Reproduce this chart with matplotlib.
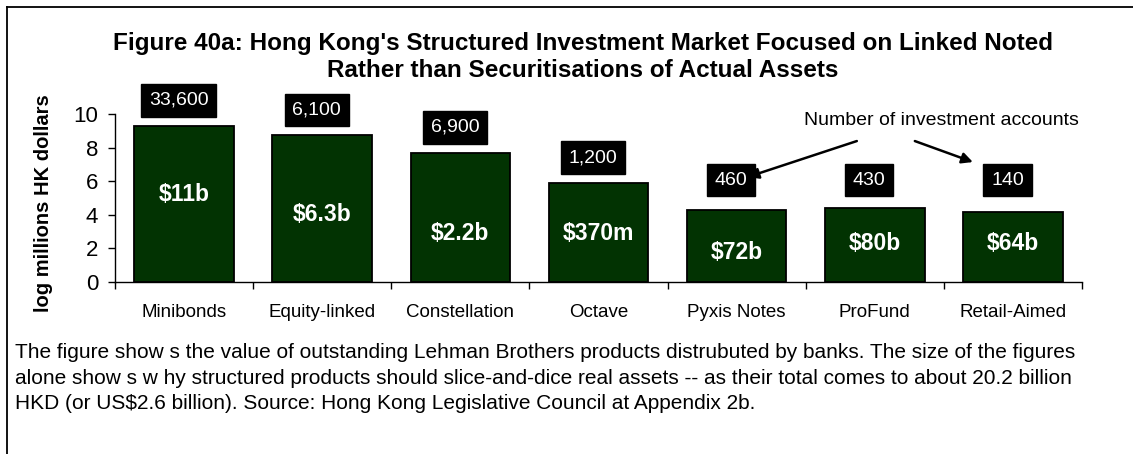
import numpy as np
import matplotlib.pyplot as plt
from matplotlib.lines import Line2D

plt.rcParams['font.family'] = ['Liberation Sans', 'DejaVu Sans']

# data (log of millions of HK dollars)
products = ["Minibonds", "Equity-linked", "Constellation", "Octave",
            "Pyxis Notes", "ProFund", "Retail-Aimed"]
log_value = [9.31, 8.75, 7.70, 5.91, 4.28, 4.38, 4.16]
value_labels = ["$11b", "$6.3b", "$2.2b", "$370m", "$72b", "$80b", "$64b"]
accounts = ["33,600", "6,100", "6,900", "1,200", "460", "430", "140"]

# where the white labels sit inside each bar
inner_y = [5.18, 3.99, 2.9, 2.9, 1.73, 2.3, 2.3]

fig = plt.figure(figsize=(11.33, 4.54), dpi=100)
ax = fig.add_axes([115/1133, 1-282/454, (1082-115)/1133, (282-114)/454])

x = np.arange(len(products))
bars = ax.bar(x, log_value, width=0.72, color="#023302", edgecolor="black", linewidth=1.3)

ax.set_xlim(-0.5, len(products) - 0.5)
ax.set_ylim(0, 10)
ax.set_yticks([0, 2, 4, 6, 8, 10])
ax.tick_params(axis="y", labelsize=16, length=5, width=1, pad=7)

# category boundaries get the tick marks, names go in between
ax.set_xticks(np.arange(-0.5, len(products)), labels=[""] * (len(products) + 1))
ax.set_xticks(x, labels=products, minor=True)
ax.tick_params(axis="x", which="major", length=5, width=1, direction="out")
ax.tick_params(axis="x", which="minor", length=0, labelsize=13.5, pad=16)

for side in ["top", "right"]:
    ax.spines[side].set_visible(False)
for side in ["left", "bottom"]:
    ax.spines[side].set_linewidth(1)

for i, b in enumerate(bars):
    ax.text(b.get_x() + b.get_width()/2, inner_y[i], value_labels[i],
            color="white", fontsize=16.5, fontweight="bold", ha="center", va="center")
    by = max(log_value[i] + 1.5, 6.07)
    ax.text(i - 0.04, by, accounts[i], color="white", fontsize=14, ha="center", va="center",
            bbox=dict(boxstyle="square,pad=0.4", fc="black", ec="black"), clip_on=False)

# arrows pointing to two of the boxes
arrow = dict(arrowstyle="-|>", color="black", lw=1.8, mutation_scale=16, shrinkA=0, shrinkB=0)
ax.annotate("", xy=(4.08, 6.25), xytext=(4.87, 8.39), arrowprops=arrow,
            annotation_clip=False, zorder=6)
ax.annotate("", xy=(5.71, 7.14), xytext=(5.29, 8.39), arrowprops=arrow,
            annotation_clip=False, zorder=6)
ax.text(5.48, 9.6, "Number of investment accounts", fontsize=14, ha="center", va="center")

fig.text(44/1133, 1-203/454, "log millions HK dollars", rotation=90, fontsize=14.5,
         fontweight="bold", ha="center", va="center")

fig.text(583/1133, 1-57/454,
         "Figure 40a: Hong Kong's Structured Investment Market Focused on Linked Noted\n"
         "Rather than Securitisations of Actual Assets",
         fontsize=17.5, fontweight="bold", ha="center", va="center", linespacing=1.2)

fig.text(15/1133, 1-378/454,
         "The figure show s the value of outstanding Lehman Brothers products distrubuted by banks. "
         "The size of the figures\n"
         "alone show s w hy structured products should slice-and-dice real assets -- as their total "
         "comes to about 20.2 billion\n"
         "HKD (or US$2.6 billion). Source: Hong Kong Legislative Council at Appendix 2b.",
         fontsize=15, ha="left", va="center", linespacing=1.45)

# frame around the figure (cut on the right and bottom)
fig.add_artist(Line2D([7/1133, 1], [1-7/454, 1-7/454], color="black", lw=1.3))
fig.add_artist(Line2D([7/1133, 7/1133], [1-7/454, 0], color="black", lw=1.3))

fig.savefig("out.png", dpi=100)
